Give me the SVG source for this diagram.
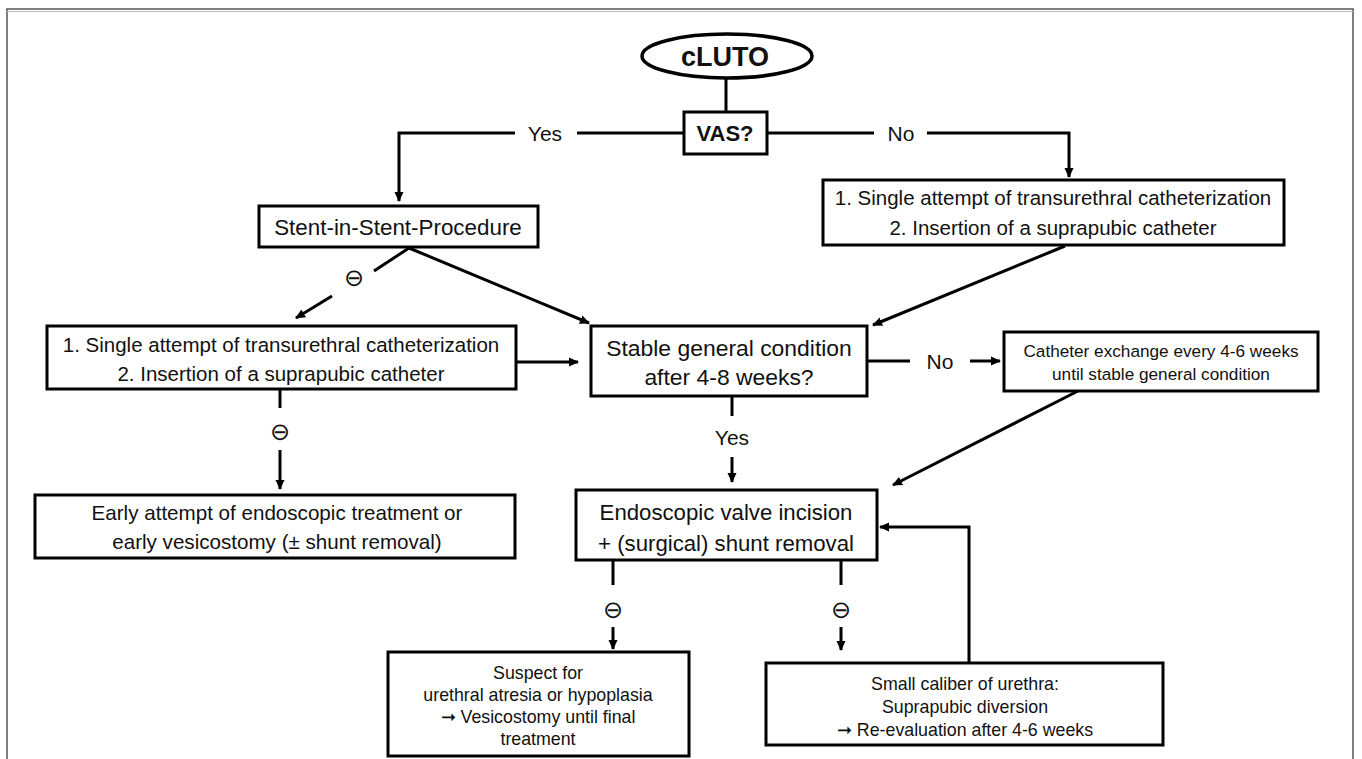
<svg xmlns="http://www.w3.org/2000/svg" width="1362" height="759" viewBox="0 0 1362 759">
<style>
.box{fill:#fff;stroke:#000;stroke-width:3}
.ln{fill:none;stroke:#000;stroke-width:3}
.t{font-family:"Liberation Sans",Arial,sans-serif;fill:#111;text-anchor:middle}
.sym{font-family:"DejaVu Sans",sans-serif;fill:#111;text-anchor:middle;font-size:24px}
</style>
<defs>
<marker id="ah" markerWidth="10" markerHeight="10" refX="9" refY="5" orient="auto" markerUnits="userSpaceOnUse" viewBox="0 0 10 10">
<path d="M0,0.5 L10,5 L0,9.5 z" fill="#000"/>
</marker>
</defs>
<rect x="0" y="0" width="1362" height="759" fill="#fff"/>
<rect x="7" y="9" width="1346" height="800" fill="none" stroke="#555" stroke-width="1.5"/>
<line x1="7" y1="11.5" x2="1353" y2="11.5" stroke="#bbb" stroke-width="1"/>

<g id="connectors">
<line class="ln" x1="726" y1="78" x2="726" y2="112"/>
<polyline class="ln" points="684,133 577,133"/>
<polyline class="ln" points="515,133 399,133 399,201" marker-end="url(#ah)"/>
<polyline class="ln" points="767,133 874,133"/>
<polyline class="ln" points="927,133 1069,133 1069,177" marker-end="url(#ah)"/>
<line class="ln" x1="409" y1="248" x2="374" y2="271"/>
<line class="ln" x1="332" y1="296" x2="296" y2="318" marker-end="url(#ah)"/>
<line class="ln" x1="409" y1="248" x2="589" y2="323" marker-end="url(#ah)"/>
<line class="ln" x1="1065" y1="246" x2="873" y2="325" marker-end="url(#ah)"/>
<line class="ln" x1="517" y1="362" x2="578" y2="362" marker-end="url(#ah)"/>
<line class="ln" x1="867" y1="361" x2="910" y2="361"/>
<line class="ln" x1="970" y1="361" x2="1000" y2="361" marker-end="url(#ah)"/>
<line class="ln" x1="1078" y1="391" x2="893" y2="485" marker-end="url(#ah)"/>
<line class="ln" x1="732" y1="396" x2="732" y2="416"/>
<line class="ln" x1="732" y1="457" x2="732" y2="482" marker-end="url(#ah)"/>
<line class="ln" x1="280" y1="389" x2="280" y2="408"/>
<line class="ln" x1="280" y1="450" x2="280" y2="489" marker-end="url(#ah)"/>
<line class="ln" x1="613" y1="560" x2="613" y2="585"/>
<line class="ln" x1="613" y1="627" x2="613" y2="649" marker-end="url(#ah)"/>
<line class="ln" x1="841" y1="560" x2="841" y2="585"/>
<line class="ln" x1="841" y1="627" x2="841" y2="650" marker-end="url(#ah)"/>
<polyline class="ln" points="969,663 969,527 880,527" marker-end="url(#ah)"/>
</g>

<g id="labels">
<text class="t" x="545" y="141" font-size="21">Yes</text>
<text class="t" x="901" y="141" font-size="21">No</text>
<text class="sym" x="354" y="286">⊖</text>
<text class="t" x="940" y="369" font-size="21">No</text>
<text class="t" x="732" y="445" font-size="21">Yes</text>
<text class="sym" x="280" y="440">⊖</text>
<text class="sym" x="613" y="618">⊖</text>
<text class="sym" x="841" y="618">⊖</text>
</g>

<g id="cluto">
<ellipse cx="727" cy="56" rx="85" ry="22" fill="#fff" stroke="#000" stroke-width="3.5"/>
<text class="t" x="725" y="66" font-size="27" font-weight="bold">cLUTO</text>
</g>
<g id="vas">
<rect class="box" x="684" y="112" width="83" height="42"/>
<text class="t" x="725" y="141" font-size="22" font-weight="bold">VAS?</text>
</g>
<g id="stent">
<rect class="box" x="259" y="206" width="279" height="41"/>
<text class="t" x="398" y="235" font-size="22.4">Stent-in-Stent-Procedure</text>
</g>
<g id="cath-right">
<rect class="box" x="823" y="180" width="461" height="65"/>
<text class="t" x="1053" y="205" font-size="20.5">1. Single attempt of transurethral catheterization</text>
<text class="t" x="1053" y="235" font-size="20.5">2. Insertion of a suprapubic catheter</text>
</g>
<g id="cath-left">
<rect class="box" x="47" y="326" width="469" height="63"/>
<text class="t" x="281" y="352" font-size="20.5">1. Single attempt of transurethral catheterization</text>
<text class="t" x="281" y="381" font-size="20.5">2. Insertion of a suprapubic catheter</text>
</g>
<g id="stable">
<rect class="box" x="591" y="326" width="276" height="70"/>
<text class="t" x="729" y="356" font-size="22.9">Stable general condition</text>
<text class="t" x="729" y="385" font-size="22.9">after 4-8 weeks?</text>
</g>
<g id="exchange">
<rect class="box" x="1004" y="332" width="314" height="59"/>
<text class="t" x="1161" y="357" font-size="17.2">Catheter exchange every 4-6 weeks</text>
<text class="t" x="1161" y="380" font-size="17.2">until stable general condition</text>
</g>
<g id="early">
<rect class="box" x="35" y="495" width="480" height="63"/>
<text class="t" x="277" y="520" font-size="20.6">Early attempt of endoscopic treatment or</text>
<text class="t" x="277" y="549" font-size="20.6">early vesicostomy (± shunt removal)</text>
</g>
<g id="endoscopic">
<rect class="box" x="576" y="490" width="301" height="70"/>
<text class="t" x="726" y="520" font-size="22.2">Endoscopic valve incision</text>
<text class="t" x="726" y="551" font-size="22.2">+ (surgical) shunt removal</text>
</g>
<g id="suspect">
<rect class="box" x="388" y="652" width="301" height="104"/>
<text class="t" x="538" y="679" font-size="17.8">Suspect for</text>
<text class="t" x="538" y="701" font-size="17.8">urethral atresia or hypoplasia</text>
<text class="t" x="538" y="723" font-size="17.8">➞ Vesicostomy until final</text>
<text class="t" x="538" y="745" font-size="17.8">treatment</text>
</g>
<g id="small">
<rect class="box" x="766" y="663" width="397" height="82"/>
<text class="t" x="965" y="690" font-size="17.8">Small caliber of urethra:</text>
<text class="t" x="965" y="713" font-size="17.8">Suprapubic diversion</text>
<text class="t" x="965" y="736" font-size="17.8">➞ Re-evaluation after 4-6 weeks</text>
</g>
</svg>
